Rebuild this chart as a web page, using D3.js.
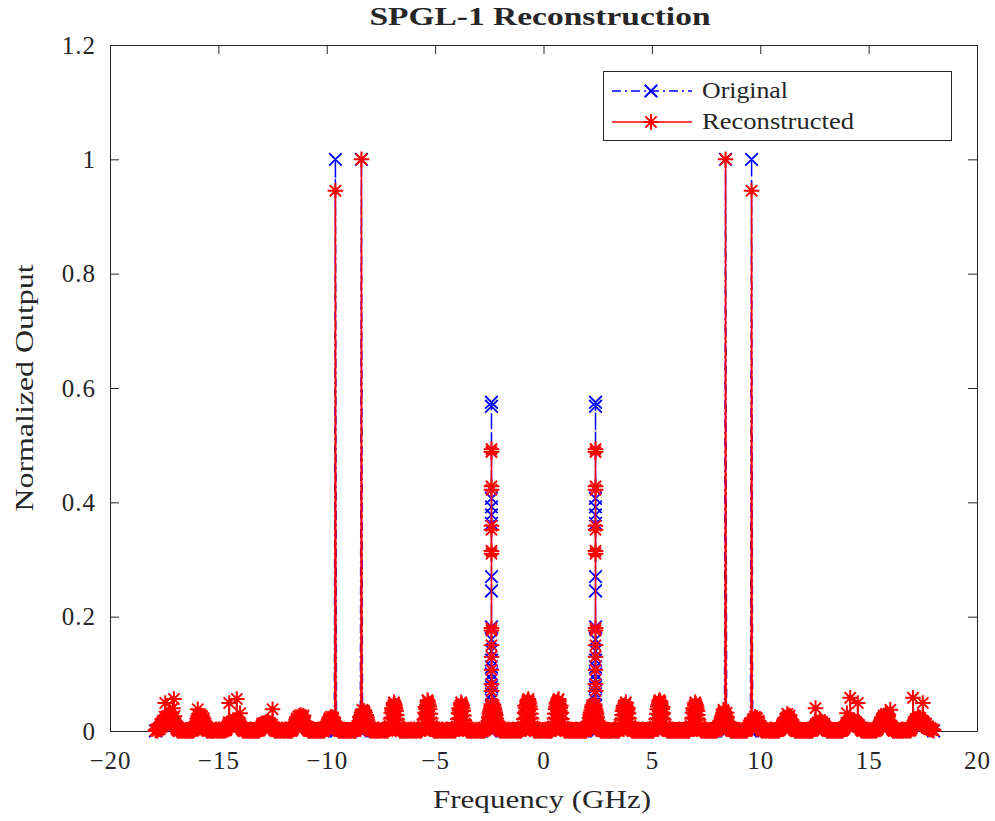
<!DOCTYPE html>
<html>
<head>
<meta charset="utf-8">
<script src="https://cdn.jsdelivr.net/npm/d3@7"></script>
<style>
  body { margin: 0; background: #fff; }
  text { font-family: "Liberation Serif", "Times New Roman", serif; fill: #262626; }
</style>
</head>
<body>
<svg id="chart" width="995" height="821"></svg>
<script>
// ---- data ---------------------------------------------------------------
// Reconstructed spectrum floor, one sample every 0.05 GHz from -17.9 GHz
// (values in units of 1e-3 of the normalized output)
const floorStart = -17.9;
const floorStep = 0.05;
const reconFloor = [
  1,3,2,5,3,9,14,10,19,49,15,22,18,24,13,21,40,56,17,6,
  2,0,1,3,0,2,1,0,2,1,0,3,1,0,2,1,4,9,16,38,
  21,28,15,25,12,17,6,2,0,1,3,0,2,1,0,2,3,0,1,2,
  0,3,1,0,2,1,5,11,49,9,16,12,19,10,17,56,13,8,31,6,
  2,0,1,3,0,2,1,0,3,1,0,2,1,0,2,3,1,5,10,6,
  14,9,16,12,15,8,13,6,38,4,1,0,2,1,3,0,1,2,0,1,
  3,0,2,1,0,2,4,3,11,7,19,12,26,17,28,14,23,10,16,6,
  3,1,0,2,1,0,3,1,0,2,1,0,2,3,0,1,2,5,11,8,
  19,14,25,16,22,10,12,7,3,1,0,2,1,0,3,1,0,2,1,0,
  2,1,3,0,1,2,5,10,18,12,20,37,22,32,16,24,9,4,1,0,
  2,1,0,3,1,0,2,1,0,2,3,0,1,2,0,3,9,22,40,31,
  50,44,35,20,8,2,0,1,3,0,2,1,0,2,1,0,3,1,0,2,
  1,0,2,3,0,1,3,8,20,42,33,54,47,38,22,9,3,1,0,2,
  1,0,3,1,0,2,1,0,2,3,0,1,2,0,1,3,0,2,8,21,
  40,32,50,44,35,19,7,2,0,1,3,0,2,1,0,2,1,0,3,1,
  0,2,1,0,2,3,8,18,30,38,47,42,45,36,28,17,8,3,1,0,
  2,1,0,3,1,0,2,1,0,2,3,0,1,2,0,1,3,0,2,8,
  21,44,35,51,56,48,38,22,8,2,0,1,3,0,2,1,0,2,1,0,
  3,1,0,2,1,0,2,8,22,38,48,51,56,35,44,21,8,2,0,1,
  3,0,2,1,0,2,1,0,3,1,0,2,1,0,2,3,0,1,3,8,
  17,28,36,45,42,47,38,30,18,8,3,1,0,2,1,0,3,1,0,2,
  1,0,2,3,0,1,2,0,3,8,20,35,44,38,50,32,40,22,9,2,
  0,1,3,0,2,1,0,2,1,0,3,1,0,2,1,0,2,3,0,1,
  3,8,21,38,47,54,50,33,42,20,8,3,1,0,2,1,0,3,1,0,
  2,1,0,3,1,0,2,1,0,2,3,0,1,3,9,22,40,31,50,44,
  35,20,8,2,0,1,3,0,2,1,0,2,1,0,3,1,0,2,1,5,
  10,18,12,24,37,30,20,32,16,9,4,1,0,2,1,0,3,1,0,2,
  1,0,2,3,0,1,2,6,11,8,12,18,14,25,16,22,10,15,6,2,
  0,1,3,0,2,1,0,2,3,0,1,2,0,1,3,0,2,4,9,14,
  8,21,13,30,18,27,12,19,7,3,1,0,2,1,0,3,1,0,2,1,
  0,2,3,0,1,2,0,3,6,40,10,15,9,19,12,16,8,13,5,2,
  0,1,3,0,2,1,0,2,1,0,3,1,0,2,1,3,5,10,31,8,
  15,58,12,19,10,17,14,9,49,11,6,2,0,1,3,0,2,1,0,2,
  1,0,3,1,0,2,3,6,12,8,20,14,27,18,30,22,25,12,37,6,
  2,0,1,3,0,2,1,0,2,3,0,1,2,0,1,3,0,2,6,58,
  12,18,10,22,25,14,20,11,49,16,9,13,5,8,3,5,2,3,1
];
// Samples halfway between the ones above (same units)
const reconFloorMid = [
  2,0,4,6,12,7,17,13,25,20,26,14,27,19,24,16,22,26,11,3,
  1,0,2,1,0,3,0,1,0,2,1,0,2,1,0,2,6,13,22,27,
  25,20,27,18,22,10,3,1,0,2,1,0,3,0,1,2,1,0,3,1,
  1,2,0,1,3,2,8,15,13,14,10,17,14,19,12,15,11,13,10,3,
  1,0,2,1,3,0,2,1,0,2,1,0,3,1,0,2,3,7,13,11,
  11,13,10,16,11,14,9,11,7,2,0,1,0,2,1,0,3,1,0,2,
  1,2,0,3,1,0,2,7,15,13,22,20,24,21,25,19,27,13,9,4,
  2,0,1,0,2,1,0,2,1,0,3,1,0,1,2,0,3,8,15,13,
  22,18,20,24,17,15,9,5,2,0,1,0,3,1,0,2,1,0,2,1,
  0,2,1,2,0,3,7,14,24,27,30,29,35,26,28,19,13,6,2,1,
  1,0,2,1,0,3,1,0,1,2,1,0,3,1,2,5,15,32,36,45,
  47,40,28,14,4,1,0,2,1,0,3,0,1,2,0,2,1,0,3,1,
  0,1,2,1,0,2,5,14,32,38,45,51,43,30,15,5,2,0,1,0,
  0,2,1,0,3,1,0,2,1,0,2,1,0,2,1,0,3,5,14,31,
  36,45,47,40,27,13,4,1,0,2,1,0,3,1,0,2,0,1,2,0,
  1,0,2,1,3,5,13,24,34,43,44,46,40,32,22,12,5,2,0,1,
  1,0,2,1,0,3,1,0,2,1,0,2,1,0,3,1,0,2,5,14,
  32,40,46,54,52,43,30,15,4,1,0,2,1,0,3,0,1,2,0,2,
  2,0,1,0,2,1,5,15,30,43,50,54,46,40,32,14,4,1,0,2,
  1,2,0,3,1,0,2,1,0,2,1,0,3,1,0,2,1,0,5,12,
  23,32,41,44,46,43,34,24,13,5,2,0,1,0,2,1,0,2,1,0,
  0,1,2,1,0,2,1,0,5,14,28,40,41,46,42,36,31,15,5,1,
  2,0,1,2,0,3,1,0,2,1,0,2,1,0,3,1,0,1,2,0,
  5,14,30,43,51,52,44,38,31,14,5,2,0,1,0,2,1,0,2,1,
  0,2,1,0,2,1,0,3,1,0,2,1,0,5,15,32,36,45,47,40,
  28,14,4,1,0,2,1,0,3,0,1,0,2,1,0,2,1,0,3,7,
  14,15,20,31,34,27,26,24,12,6,2,0,1,0,2,1,0,2,1,0,
  0,1,0,2,1,0,4,9,14,10,15,21,20,19,23,13,18,9,4,1,
  1,2,0,1,2,0,1,0,2,1,0,1,2,0,1,2,3,6,12,11,
  16,17,24,25,23,20,16,13,5,2,0,1,0,2,1,0,2,1,0,2,
  1,0,2,1,0,3,1,4,9,12,13,12,15,17,14,13,11,9,3,1,
  2,0,1,3,0,2,1,0,2,1,0,2,1,0,2,4,8,14,11,12,
  13,16,17,14,19,12,16,13,10,8,3,1,0,2,1,0,3,0,1,0,
  0,2,1,0,2,1,4,9,15,16,22,24,25,27,26,28,19,17,10,3,
  1,0,2,1,3,0,1,2,1,0,2,1,0,3,1,2,1,4,10,15,
  15,21,17,24,20,23,16,18,13,12,11,7,6,4,4,3,2,2
];

// Narrow tones (GHz) with original and reconstructed amplitudes
const toneFreqs = [-9.6, -8.4, 8.4, 9.6];
const toneOriginal = [1, 1, 1, 1];
const toneRecon = [0.945, 1, 1, 0.945];

// Main lobes: samples inside each lobe, in frequency order
const lobeFreqs = [-2.4, 2.4];
const lobeOriginal = [0.025, 0.044, 0.065, 0.09, 0.112, 0.14, 0.182, 0.27, 0.378, 0.392,
                      0.568, 0.575, 0.407, 0.363, 0.245, 0.16, 0.124, 0.10, 0.077, 0.054, 0.035];
const lobeRecon = [0.07, 0.107, 0.15, 0.18, 0.315, 0.359, 0.428, 0.493,
                   0.488, 0.422, 0.352, 0.31, 0.176, 0.13, 0.082];

// Axes
const xTicks = [-20, -15, -10, -5, 0, 5, 10, 15, 20];
const yTicks = [0, 0.2, 0.4, 0.6, 0.8, 1, 1.2];
const yTickLabels = ["0", "0.2", "0.4", "0.6", "0.8", "1", "1.2"];
const seriesNames = ["Original", "Reconstructed"];

// ---- build series ---------------------------------------------------------
const floorEnd = +(floorStart + (reconFloor.length - 1) * floorStep).toFixed(2);
const gridF = i => +(floorStart + i * floorStep).toFixed(3);

const recon = reconFloor.map((v, i) => ({ f: gridF(i), v: v / 1000 }));
toneFreqs.forEach((f, k) => {
  const i = Math.round((f - floorStart) / floorStep);
  recon[i].v = toneRecon[k];
});
reconFloorMid.forEach((v, i) => recon.push({ f: gridF(i + 0.5), v: v / 1000 }));
lobeFreqs.forEach(f => lobeRecon.forEach(v => recon.push({ f, v })));
recon.sort((a, b) => a.f - b.f);

const orig = [{ f: floorStart, v: 0 }];
toneFreqs.forEach((f, k) => {
  orig.push({ f: f - floorStep, v: 0 }, { f, v: toneOriginal[k] }, { f: f + floorStep, v: 0 });
});
lobeFreqs.forEach(f => {
  orig.push({ f: f - floorStep, v: 0 });
  lobeOriginal.forEach(v => orig.push({ f, v }));
  orig.push({ f: f + floorStep, v: 0 });
});
orig.push({ f: floorEnd, v: 0 });
orig.sort((a, b) => a.f - b.f);

// ---- layout ---------------------------------------------------------------
const svg = d3.select("#chart");
const plot = { left: 110, right: 977, top: 45, bottom: 731 };
const x = d3.scaleLinear().domain([-20, 20]).range([plot.left, plot.right]);
const y = d3.scaleLinear().domain([0, 1.2]).range([plot.bottom, plot.top]);
const axisColor = "#262626";
const blue = "#0000ff", red = "#ff0000";

// axes box with inward ticks on every side
function styleAxis(g) {
  g.selectAll("path.domain").attr("stroke", axisColor).attr("stroke-width", 1);
  g.selectAll(".tick line").attr("stroke", axisColor).attr("stroke-width", 1);
  g.selectAll(".tick text")
    .attr("fill", axisColor)
    .style("font-family", '"Liberation Serif", serif')
    .style("font-size", "25px")
    .style("letter-spacing", "1px");
}
svg.append("g").attr("transform", `translate(0,${plot.bottom})`)
  .call(d3.axisBottom(x).tickValues(xTicks).tickFormat(d3.format("d"))
    .tickSizeInner(-9).tickSizeOuter(0).tickPadding(20))
  .call(styleAxis);
svg.append("g").attr("transform", `translate(0,${plot.top})`)
  .call(d3.axisTop(x).tickValues(xTicks).tickFormat("").tickSizeInner(-9).tickSizeOuter(0))
  .call(styleAxis);
svg.append("g").attr("transform", `translate(${plot.left},0)`)
  .call(d3.axisLeft(y).tickValues(yTicks).tickFormat((d, i) => yTickLabels[i])
    .tickSizeInner(-9).tickSizeOuter(0).tickPadding(14))
  .call(styleAxis);
svg.append("g").attr("transform", `translate(${plot.right},0)`)
  .call(d3.axisRight(y).tickValues(yTicks).tickFormat("").tickSizeInner(-9).tickSizeOuter(0))
  .call(styleAxis);

// ---- markers --------------------------------------------------------------
function crossPath(cx, cy, r) {
  return `M${cx - r},${cy - r}L${cx + r},${cy + r}M${cx - r},${cy + r}L${cx + r},${cy - r}`;
}
function starPath(cx, cy, r) {
  const a = r * 0.72;
  return `M${cx - r},${cy}H${cx + r}M${cx},${cy - r}V${cy + r}` +
         `M${cx - a},${cy - a}L${cx + a},${cy + a}M${cx - a},${cy + a}L${cx + a},${cy - a}`;
}

const line = d3.line().x(d => x(d.f)).y(d => y(d.v));

// Original: dash-dot blue with x markers
svg.append("path").datum(orig)
  .attr("d", line).attr("fill", "none")
  .attr("stroke", blue).attr("stroke-width", 1.5)
  .attr("stroke-dasharray", "9,4,2,4");
svg.append("path")
  .attr("d", orig.map(d => crossPath(x(d.f), y(d.v), 6.3)).join(""))
  .attr("fill", "none").attr("stroke", blue).attr("stroke-width", 1.8);

// Reconstructed: solid red with asterisk markers
svg.append("path").datum(recon)
  .attr("d", line).attr("fill", "none")
  .attr("stroke", red).attr("stroke-width", 1.6);
svg.append("path")
  .attr("d", recon.map(d => starPath(x(d.f), y(d.v), 7.8)).join(""))
  .attr("fill", "none").attr("stroke", red).attr("stroke-width", 2);

// ---- titles ---------------------------------------------------------------
svg.append("text")
  .attr("x", 540).attr("y", 25).attr("text-anchor", "middle")
  .attr("textLength", 341).attr("lengthAdjust", "spacingAndGlyphs")
  .style("font-size", "26px").style("font-weight", "bold").attr("fill", "#000")
  .text("SPGL-1 Reconstruction");

svg.append("text")
  .attr("x", 542).attr("y", 808).attr("text-anchor", "middle")
  .attr("textLength", 218).attr("lengthAdjust", "spacingAndGlyphs")
  .style("font-size", "25px")
  .text("Frequency (GHz)");

svg.append("text")
  .attr("transform", "translate(33,388) rotate(-90)")
  .attr("text-anchor", "middle")
  .attr("textLength", 247).attr("lengthAdjust", "spacingAndGlyphs")
  .style("font-size", "25px")
  .text("Normalized Output");

// ---- legend ---------------------------------------------------------------
const legend = svg.append("g");
legend.append("rect")
  .attr("x", 603.5).attr("y", 71.5).attr("width", 348).attr("height", 69)
  .attr("fill", "#fff").attr("stroke", axisColor).attr("stroke-width", 1);

const legendRows = [
  { name: seriesNames[0], color: blue, dash: "9,4,2,4", marker: crossPath, r: 6.3, cy: 91, len: 86 },
  { name: seriesNames[1], color: red, dash: null, marker: starPath, r: 7.8, cy: 122, len: 152 }
];
legendRows.forEach(row => {
  legend.append("line")
    .attr("x1", 612).attr("x2", 692).attr("y1", row.cy).attr("y2", row.cy)
    .attr("stroke", row.color).attr("stroke-width", 1.5)
    .attr("stroke-dasharray", row.dash);
  legend.append("path")
    .attr("d", row.marker(651, row.cy, row.r))
    .attr("fill", "none").attr("stroke", row.color).attr("stroke-width", 2);
  legend.append("text")
    .attr("x", 702).attr("y", row.cy + 7)
    .attr("textLength", row.len).attr("lengthAdjust", "spacingAndGlyphs")
    .style("font-size", "23px")
    .text(row.name);
});
</script>
</body>
</html>
